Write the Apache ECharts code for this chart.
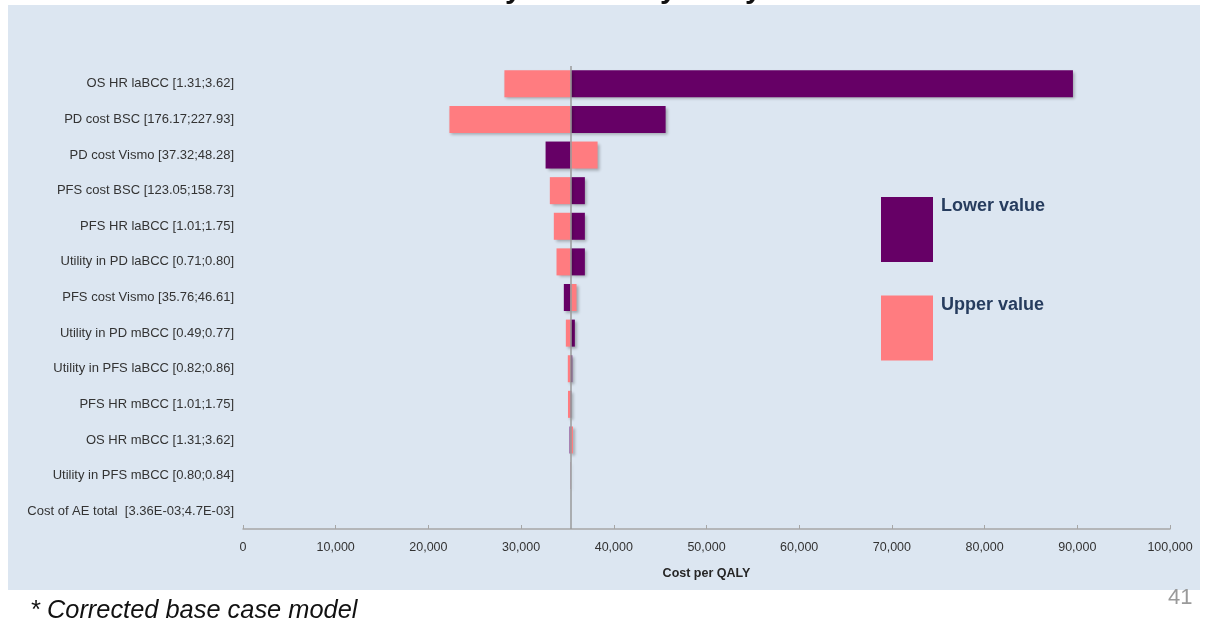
<!DOCTYPE html>
<html>
<head>
<meta charset="utf-8">
<script src="https://cdn.jsdelivr.net/npm/echarts@6/dist/echarts.min.js"></script>
<style>
  html, body { margin: 0; padding: 0; background: #ffffff; }
  #chart { width: 1212px; height: 633px; }
</style>
</head>
<body>
<div id="chart"></div>
<script>
// One-way sensitivity analysis (tornado): cost per QALY when each parameter
// is set to the lower / upper end of its range, around the base case.
const categories = [
  'OS HR laBCC [1.31;3.62]',
  'PD cost BSC [176.17;227.93]',
  'PD cost Vismo [37.32;48.28]',
  'PFS cost BSC [123.05;158.73]',
  'PFS HR laBCC [1.01;1.75]',
  'Utility in PD laBCC [0.71;0.80]',
  'PFS cost Vismo [35.76;46.61]',
  'Utility in PD mBCC [0.49;0.77]',
  'Utility in PFS laBCC [0.82;0.86]',
  'PFS HR mBCC [1.01;1.75]',
  'OS HR mBCC [1.31;3.62]',
  'Utility in PFS mBCC [0.80;0.84]',
  'Cost of AE total  [3.36E-03;4.7E-03]'
];
const baseCase = 35330;
const lowerValues = [89530, 45590, 32640, 36880, 36880, 36880, 34610, 35800, 35520, 35410, 35230, 35350, 35330];
const upperValues = [28200, 22270, 38250, 33100, 33530, 33820, 35980, 34830, 35040, 35060, 35600, 35320, 35330];
const xTicks = { min: 0, max: 100000, step: 10000 };

const PURPLE = '#660066';
const PINK = '#ff7c80';

// Each bar runs from the base case to the scenario value: a transparent
// offset up to the nearer end, then the visible span on the same stack.
const offsetOf = arr => arr.map(v => Math.min(v, baseCase));
const spanOf = arr => arr.map(v => Math.abs(v - baseCase));

const barShadow = {
  shadowColor: 'rgba(0,0,0,0.28)',
  shadowBlur: 3,
  shadowOffsetX: 2,
  shadowOffsetY: 2
};

const chart = echarts.init(document.getElementById('chart'), null, { renderer: 'canvas' });

chart.setOption({
  animation: false,
  textStyle: { fontFamily: '"Liberation Sans", Arial, sans-serif' },
  graphic: [
    {
      type: 'rect', z: -10, silent: true,
      shape: { x: 8, y: 5, width: 1192, height: 585 },
      style: { fill: '#dce6f1' }
    },
    {
      type: 'text', z: 10, x: 600, y: 5,
      style: {
        text: 'One-way sensitivity analysis',
        font: 'bold 30px "Liberation Sans", Arial, sans-serif',
        fill: '#111111', align: 'center', verticalAlign: 'bottom'
      }
    },
    {
      type: 'text', z: 10, x: 30, y: 611,
      style: {
        text: '* Corrected base case model',
        font: 'italic 25.4px "Liberation Sans", Arial, sans-serif',
        fill: '#111111', align: 'left', verticalAlign: 'middle'
      }
    },
    {
      type: 'text', z: 10, x: 1168, y: 598,
      style: {
        text: '41',
        font: '22px "Liberation Sans", Arial, sans-serif',
        fill: '#9a9a9a', align: 'left', verticalAlign: 'middle'
      }
    }
  ],
  legend: {
    data: ['Lower value', 'Upper value'],
    orient: 'vertical',
    left: 881,
    top: 197,
    padding: 0,
    itemWidth: 52,
    itemHeight: 65,
    itemGap: 32,
    icon: 'rect',
    selectedMode: false,
    formatter: name => '{t|' + name + '}\n{gap| }',
    textStyle: {
      rich: {
        t: { fontSize: 18, fontWeight: 'bold', color: '#263c5e', lineHeight: 22, padding: [0, 0, 0, 3] },
        gap: { fontSize: 10, height: 46, lineHeight: 46 }
      }
    }
  },
  grid: { left: 243, right: 42, top: 66, bottom: 104 },
  xAxis: {
    type: 'value',
    min: xTicks.min,
    max: xTicks.max,
    interval: xTicks.step,
    name: 'Cost per QALY',
    nameLocation: 'middle',
    nameGap: 38,
    nameTextStyle: { fontSize: 12.5, fontWeight: 'bold', color: '#262626' },
    axisLine: { show: true, lineStyle: { color: '#a6a6a6', width: 1.5 } },
    axisTick: { show: true, inside: true, length: 4, lineStyle: { color: '#a6a6a6' } },
    axisLabel: {
      fontSize: 12.5, color: '#333333', margin: 12,
      formatter: v => v.toLocaleString('en-US')
    },
    splitLine: { show: false }
  },
  yAxis: {
    type: 'category',
    data: categories,
    inverse: true,
    axisLine: { show: false },
    axisTick: { show: false },
    axisLabel: { fontSize: 13, color: '#333333', margin: 9 }
  },
  series: [
    {
      name: 'lowerOffset', type: 'bar', stack: 'lower',
      data: offsetOf(lowerValues),
      itemStyle: { color: 'rgba(0,0,0,0)' },
      barWidth: 27, barGap: '-100%', silent: true
    },
    {
      name: 'Lower value', type: 'bar', stack: 'lower',
      data: spanOf(lowerValues),
      itemStyle: Object.assign({ color: PURPLE }, barShadow),
      barWidth: 27, barGap: '-100%'
    },
    {
      name: 'upperOffset', type: 'bar', stack: 'upper',
      data: offsetOf(upperValues),
      itemStyle: { color: 'rgba(0,0,0,0)' },
      barWidth: 27, barGap: '-100%', silent: true
    },
    {
      name: 'Upper value', type: 'bar', stack: 'upper',
      data: spanOf(upperValues),
      itemStyle: Object.assign({ color: PINK }, barShadow),
      barWidth: 27, barGap: '-100%',
      markLine: {
        silent: true,
        symbol: 'none',
        label: { show: false },
        lineStyle: { color: '#9a9a9a', width: 1.5, type: 'solid' },
        data: [{ xAxis: baseCase }]
      }
    }
  ]
});
</script>
</body>
</html>
